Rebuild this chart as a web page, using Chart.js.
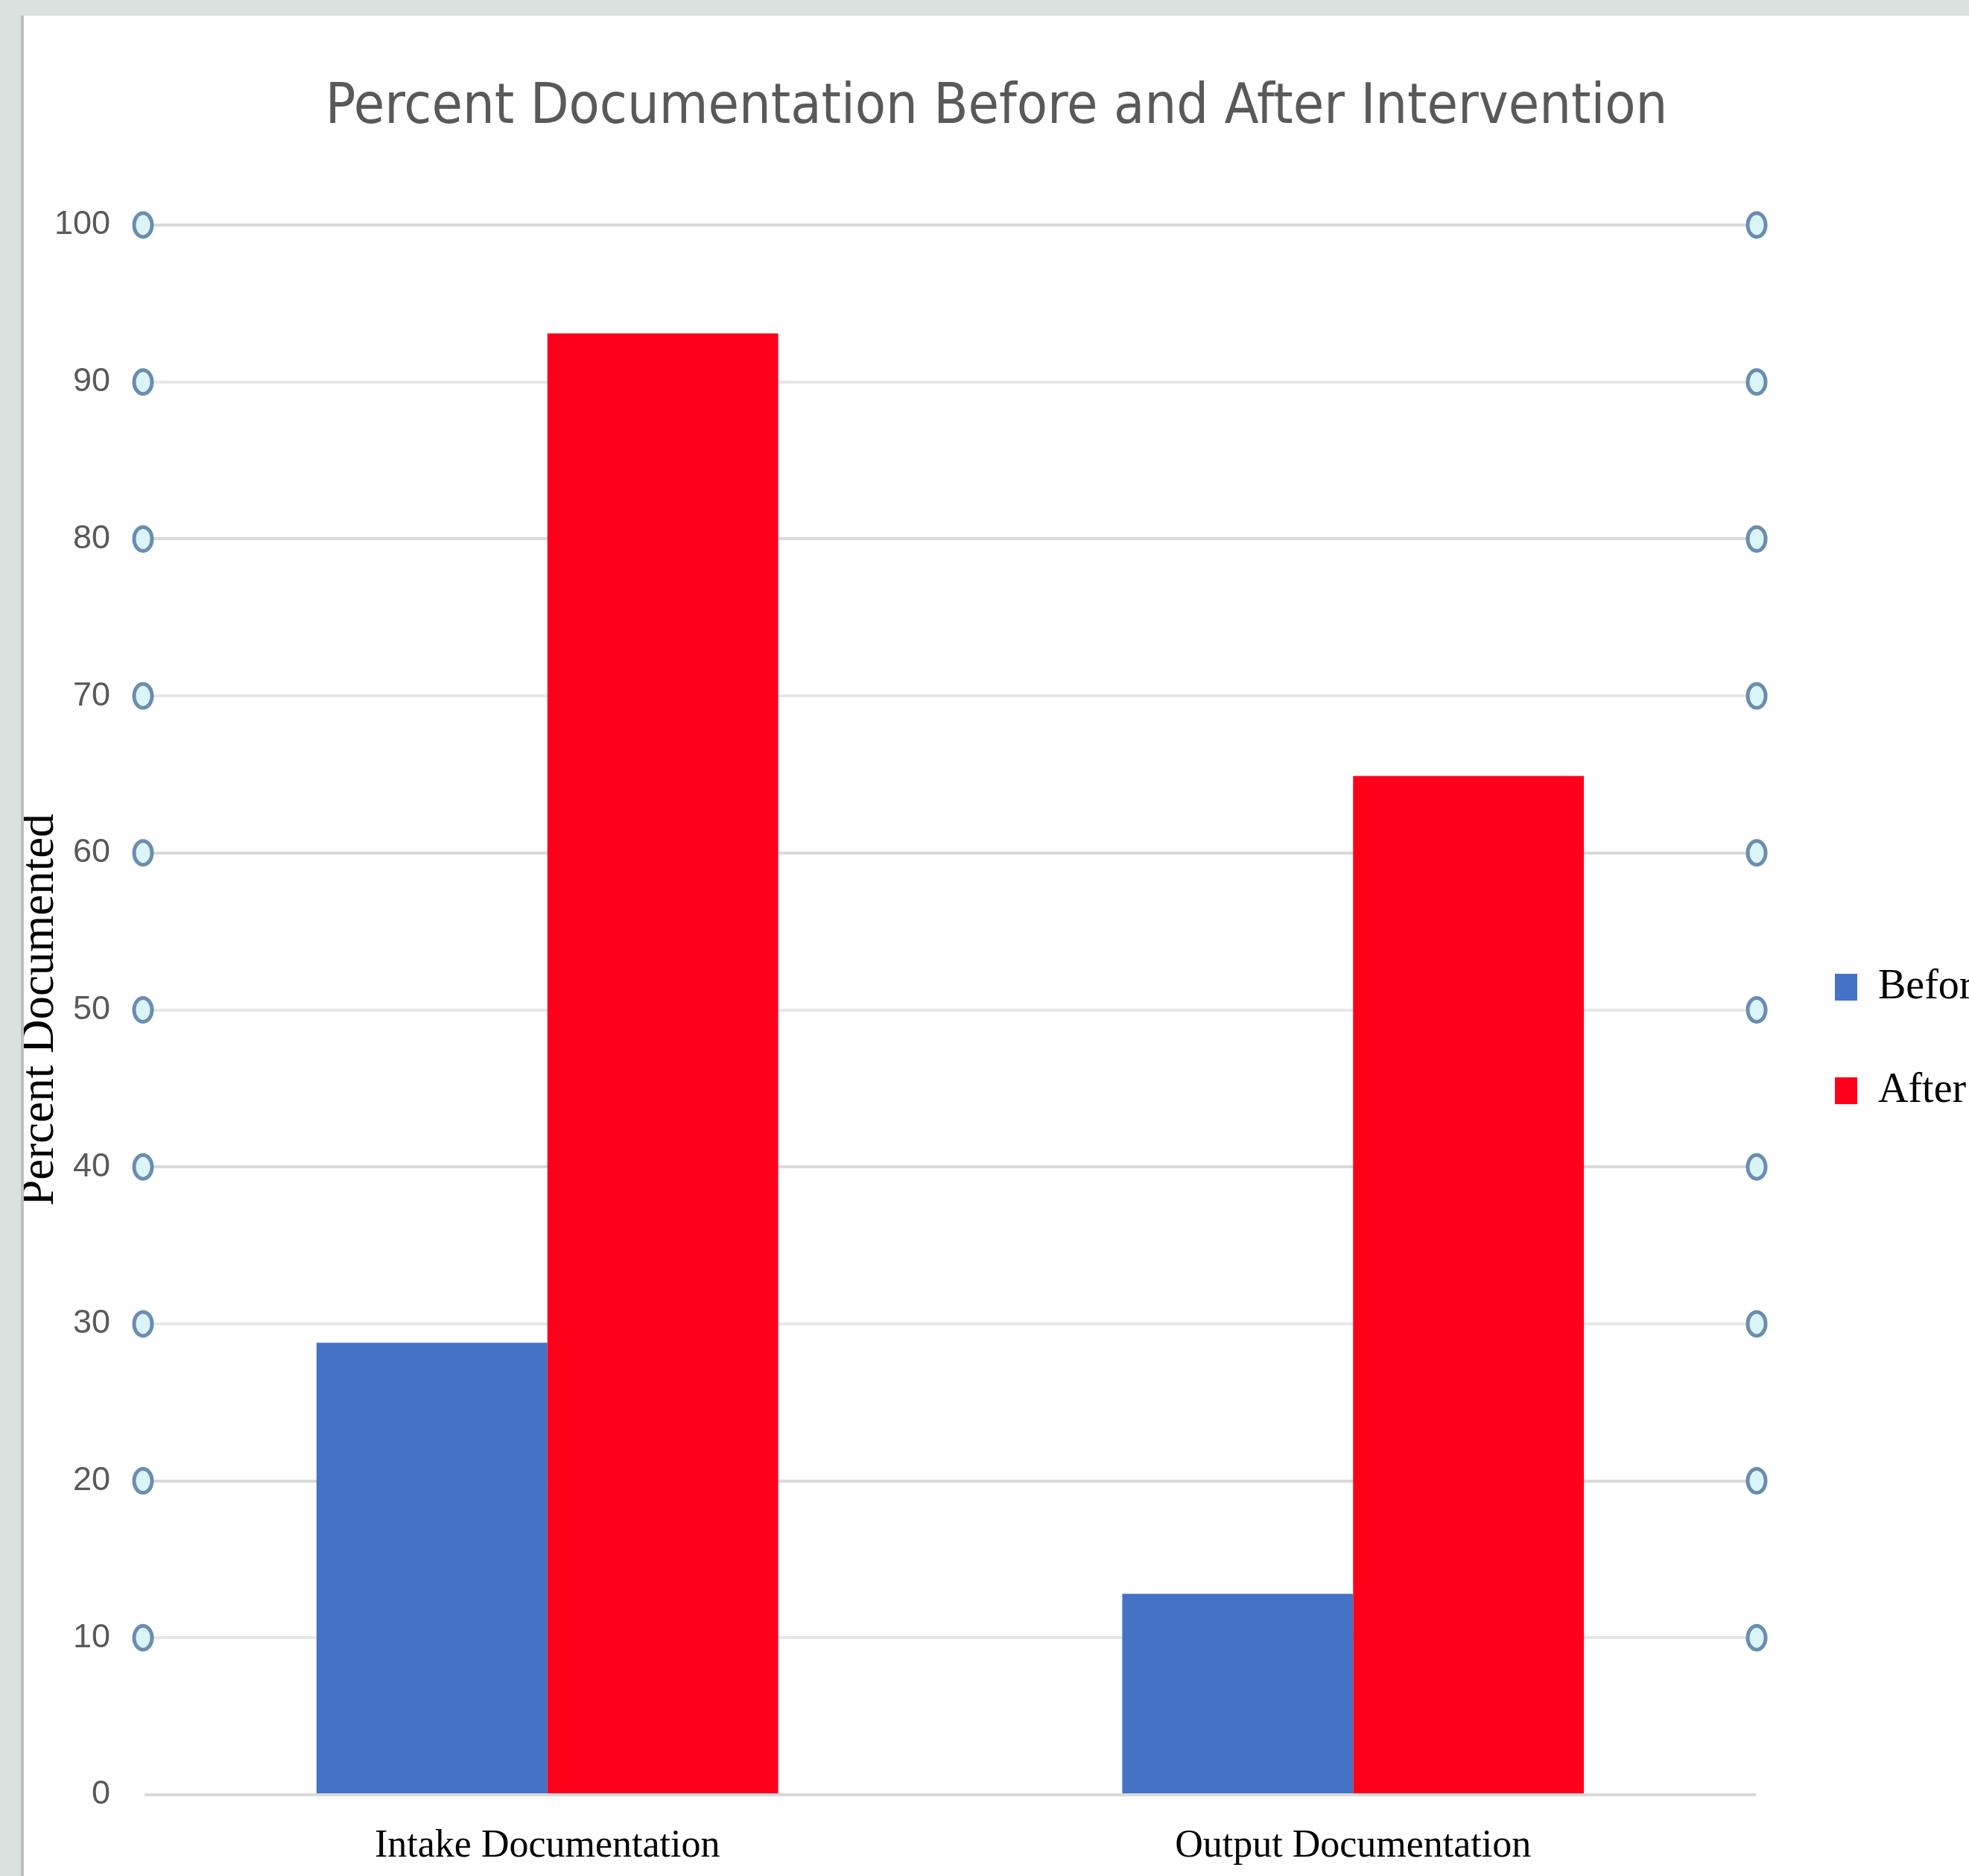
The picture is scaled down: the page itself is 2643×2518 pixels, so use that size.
<!DOCTYPE html>
<html>
<head>
<meta charset="utf-8">
<script src="https://cdn.jsdelivr.net/npm/chart.js@4.4.0/dist/chart.umd.min.js"></script>
<style>
  html, body { margin: 0; padding: 0; background: #d8e2df; overflow: hidden; }
  body { width: 2643px; height: 2518px; position: relative; }
  #panel { position: absolute; left: 28px; top: 21px; right: 0; bottom: 0; background: #fff; border-left: 4px solid #bfbfbf; }
  #chart { position: absolute; left: 0; top: 0; }
</style>
</head>
<body>
<div id="panel"><canvas id="chart" width="2611" height="2497"></canvas></div>
<script>
var categories = ['Intake Documentation', 'Output Documentation'];
var beforeValues = [28.8, 12.8];
var afterValues = [93.1, 64.9];
var yTickValues = [0, 10, 20, 30, 40, 50, 60, 70, 80, 90, 100];

var sansNarrow = '"Liberation Sans Narrow", "DejaVu Sans Condensed", "Liberation Sans", sans-serif';
var serif = '"Liberation Serif", "Times New Roman", serif';

// small ringed markers at both ends of every grid line
var tickMarkers = {
    id: 'tickMarkers',
    afterDatasetsDraw: function (chart) {
        var ctx = chart.ctx;
        var area = chart.chartArea;
        var y = chart.scales.y;
        ctx.save();
        ctx.lineWidth = 5;
        ctx.strokeStyle = '#6a8db0';
        ctx.fillStyle = '#dbf4f7';
        y.ticks.forEach(function (t) {
            if (t.value === 0) return;
            var py = y.getPixelForValue(t.value);
            [area.left - 2, area.right + 1].forEach(function (px) {
                ctx.beginPath();
                ctx.ellipse(px, py, 12, 16, 0, 0, Math.PI * 2);
                ctx.fill();
                ctx.stroke();
            });
        });
        ctx.restore();
    }
};

var ctx = document.getElementById('chart').getContext('2d');
var chart = new Chart(ctx, {
    type: 'bar',
    data: {
        labels: categories,
        datasets: [
            {
                label: 'Before',
                data: beforeValues,
                backgroundColor: '#4472c4',
                borderWidth: 0
            },
            {
                label: 'After',
                data: afterValues,
                backgroundColor: '#ff001b',
                borderWidth: 0
            }
        ]
    },
    options: {
        responsive: false,
        animation: false,
        devicePixelRatio: 1,
        layout: { padding: 0 },
        datasets: {
            bar: { categoryPercentage: 0.573, barPercentage: 1 }
        },
        scales: {
            x: {
                grid: { display: false },
                border: { display: false },
                ticks: {
                    color: '#000',
                    padding: 30,
                    font: { family: serif, size: 52, lineHeight: 1.2 }
                },
                afterFit: function (s) { s.height = 109; }
            },
            y: {
                min: 0,
                max: 100,
                afterBuildTicks: function (s) {
                    s.ticks = yTickValues.map(function (v) { return { value: v }; });
                },
                grid: {
                    drawTicks: false,
                    lineWidth: 4,
                    color: function (c) {
                        return c.tick && c.tick.value % 20 === 0 ? '#d9d9d9' : '#e7e7e7';
                    }
                },
                border: { display: false },
                ticks: {
                    color: '#595959',
                    padding: 46,
                    font: { family: '"Liberation Sans", Arial, sans-serif', size: 45 }
                },
                title: {
                    display: true,
                    text: 'Percent Documented',
                    color: '#000',
                    padding: 0,
                    font: { family: serif, size: 63, lineHeight: 0.7 }
                },
                afterFit: function (s) { s.width = 162; }
            },
            yRight: {
                position: 'right',
                min: 0,
                max: 100,
                grid: { display: false },
                border: { display: false },
                ticks: { display: false },
                afterFit: function (s) { s.width = 23; }
            }
        },
        plugins: {
            title: {
                display: true,
                text: 'Percent Documentation Before and After Intervention',
                color: '#595959',
                padding: { top: 80, bottom: 111 },
                font: { family: sansNarrow, size: 75, weight: 'normal', lineHeight: 1.2 }
            },
            legend: {
                position: 'right',
                fullSize: false,
                maxWidth: 263,
                title: {
                    display: true,
                    text: '',
                    padding: 0,
                    font: { size: 65, lineHeight: 1.2 }
                },
                labels: {
                    boxWidth: 30,
                    boxHeight: 36,
                    padding: 83,
                    color: '#000',
                    font: { family: serif, size: 56 }
                }
            },
            tooltip: { enabled: false }
        }
    },
    plugins: [tickMarkers]
});
</script>
</body>
</html>
